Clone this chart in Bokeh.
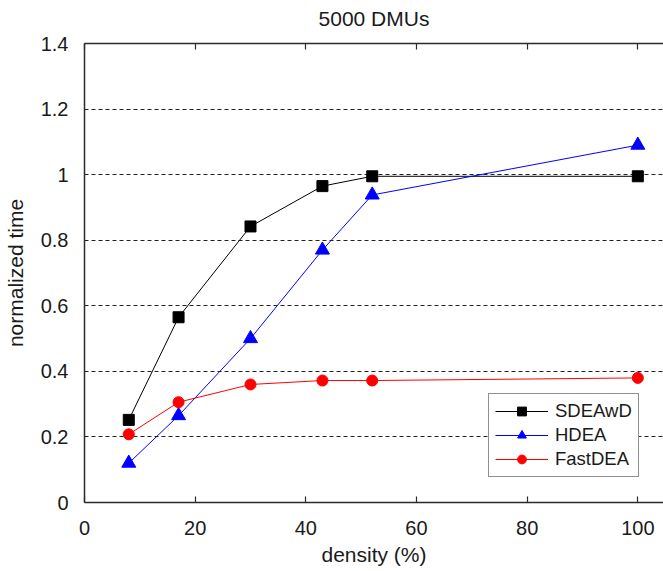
from bokeh.plotting import figure
from bokeh.models import (Range1d, LinearAxis, FixedTicker, Grid, Legend, LegendItem)
from bokeh.embed import file_html
from bokeh.resources import INLINE

# ---- data ----
density = [8, 17, 30, 43, 52, 100]
sdeawd = [0.252, 0.565, 0.842, 0.965, 0.995, 0.995]
hdea = [0.12, 0.265, 0.50, 0.77, 0.938, 1.09]
fastdea = [0.208, 0.306, 0.36, 0.372, 0.372, 0.38]

x_ticks = [0, 20, 40, 60, 80, 100]
y_ticks = [0, 0.2, 0.4, 0.6, 0.8, 1.0, 1.2, 1.4]
y_tick_labels = ["0", "0.2", "0.4", "0.6", "0.8", "1", "1.2", "1.4"]
title_text = "5000 DMUs"
x_label = "density (%)"
y_label = "normalized time"
series_names = ["SDEAwD", "HDEA", "FastDEA"]

FONT = "Liberation Sans"
TXT = "#1a1a1a"
AX = "#2b2b2b"

p = figure(width=663, height=571, output_backend="svg", toolbar_location=None,
           title=None, x_axis_type=None, y_axis_type=None,
           x_range=Range1d(0, 104.64), y_range=Range1d(0, 1.4),
           min_border_left=84, min_border_right=0, min_border_top=43,
           min_border_bottom=69)
p.outline_line_color = None
p.background_fill_color = "white"
p.border_fill_color = "white"

def style_axis(ax, labels=True):
    ax.axis_line_color = AX
    ax.axis_line_width = 1.5
    ax.major_tick_line_color = AX
    ax.major_tick_line_width = 1.2
    ax.major_tick_in = 6
    ax.major_tick_out = 0
    ax.minor_tick_in = 0
    ax.minor_tick_out = 0
    ax.major_label_text_font = FONT
    ax.major_label_text_font_size = "20px"
    ax.major_label_text_color = TXT
    ax.axis_label_text_font = FONT
    ax.axis_label_text_font_size = "21px"
    ax.axis_label_text_font_style = "normal"
    ax.axis_label_text_color = TXT
    if not labels:
        ax.major_label_text_font_size = "0px"
        ax.major_label_text_alpha = 0
        ax.major_label_standoff = 0

xb = LinearAxis(ticker=FixedTicker(ticks=x_ticks), axis_label=x_label)
style_axis(xb)
xb.major_label_standoff = 18
xb.axis_label_standoff = 5
p.add_layout(xb, "below")

xt = LinearAxis(ticker=FixedTicker(ticks=x_ticks), axis_label=title_text)
style_axis(xt, labels=False)
xt.axis_label_standoff = 14
p.add_layout(xt, "above")

yl = LinearAxis(ticker=FixedTicker(ticks=y_ticks), axis_label=y_label)
style_axis(yl)
yl.major_tick_in = 0
yl.major_label_standoff = 16
yl.axis_label_standoff = 11
yl.major_label_overrides = {t: s for t, s in zip(y_ticks, y_tick_labels)}
p.add_layout(yl, "left")

grid = Grid(dimension=1, ticker=FixedTicker(ticks=y_ticks[1:-1]))
grid.grid_line_color = "#222222"
grid.grid_line_dash = "4 3"
grid.grid_line_width = 1
p.add_layout(grid)

# ---- series ----
l1 = p.line(density, sdeawd, line_color="black", line_width=1)
m1 = p.scatter(density, sdeawd, marker="square", size=11, fill_color="black", line_color="black")
l2 = p.line(density, hdea, line_color="#0000ff", line_width=1)
m2 = p.scatter(density, hdea, marker="triangle", size=14, fill_color="#0000ff", line_color="#0000ff")
l3 = p.line(density, fastdea, line_color="#ff0000", line_width=1)
m3 = p.scatter(density, fastdea, marker="circle", size=11, fill_color="#ff0000", line_color="#ff0000")

legend = Legend(items=[LegendItem(label=series_names[0], renderers=[l1, m1]),
                       LegendItem(label=series_names[1], renderers=[l2, m2]),
                       LegendItem(label=series_names[2], renderers=[l3, m3])],
                location=(404, 25))
legend.label_text_font = FONT
legend.label_text_font_size = "18.5px"
legend.label_text_color = TXT
legend.glyph_width = 53
legend.glyph_height = 22
legend.label_height = 22
legend.label_standoff = 7
legend.spacing = 2
legend.padding = 6
legend.margin = 0
legend.border_line_color = "#222222"
legend.border_line_width = 1.2
legend.background_fill_color = "white"
legend.background_fill_alpha = 1
p.add_layout(legend, "center")

open("out.html", "w").write(file_html(p, INLINE))
